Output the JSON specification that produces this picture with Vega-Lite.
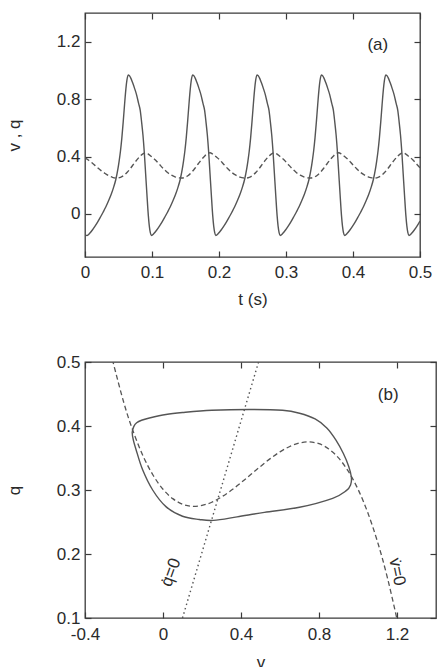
{
  "$schema": "https://vega.github.io/schema/vega-lite/v6.json",
  "padding": {"left": 4, "top": 11, "right": 0, "bottom": 0},
  "spacing": 44,
  "config": {
    "font": "Liberation Sans",
    "view": {"stroke": "#3a3a3a", "strokeWidth": 1.3},
    "axis": {
      "domain": false, "grid": false, "tickSize": -6, "tickColor": "#3a3a3a", "tickWidth": 1.2,
      "labelFont": "Liberation Sans", "labelFontSize": 17, "labelColor": "#2a2a2a", "labelPadding": 11,
      "labelFlush": false, "labelOverlap": false,
      "titleFont": "Liberation Sans", "titleFontSize": 17, "titleFontWeight": "normal", "titleColor": "#2a2a2a"
    },
    "text": {"font": "Liberation Sans", "fontSize": 17, "color": "#2a2a2a"}
  },
  "datasets": {
    "v_t": [
      {"t": 0, "v": -0.147},
      {"t": 0.003, "v": -0.150}, {"t": 0.007, "v": -0.135}, {"t": 0.011, "v": -0.112}, {"t": 0.015, "v": -0.085}, {"t": 0.019, "v": -0.055},
      {"t": 0.023, "v": -0.022}, {"t": 0.027, "v": 0.012}, {"t": 0.031, "v": 0.048}, {"t": 0.035, "v": 0.090}, {"t": 0.039, "v": 0.135},
      {"t": 0.043, "v": 0.190}, {"t": 0.046, "v": 0.240}, {"t": 0.049, "v": 0.310}, {"t": 0.051, "v": 0.370}, {"t": 0.053, "v": 0.440},
      {"t": 0.055, "v": 0.530}, {"t": 0.057, "v": 0.640}, {"t": 0.059, "v": 0.760}, {"t": 0.061, "v": 0.870}, {"t": 0.0625, "v": 0.930},
      {"t": 0.0645, "v": 0.968}, {"t": 0.066, "v": 0.965}, {"t": 0.068, "v": 0.950}, {"t": 0.071, "v": 0.915}, {"t": 0.074, "v": 0.875},
      {"t": 0.077, "v": 0.830}, {"t": 0.080, "v": 0.770}, {"t": 0.0825, "v": 0.720}, {"t": 0.0845, "v": 0.640}, {"t": 0.0865, "v": 0.550},
      {"t": 0.0885, "v": 0.430}, {"t": 0.0905, "v": 0.280}, {"t": 0.0925, "v": 0.130}, {"t": 0.0945, "v": -0.010}, {"t": 0.096, "v": -0.085},
      {"t": 0.0975, "v": -0.130},
      {"t": 0.0991, "v": -0.150}, {"t": 0.1031, "v": -0.135}, {"t": 0.1071, "v": -0.112}, {"t": 0.1111, "v": -0.085}, {"t": 0.1151, "v": -0.055},
      {"t": 0.1191, "v": -0.022}, {"t": 0.1231, "v": 0.012}, {"t": 0.1271, "v": 0.048}, {"t": 0.1311, "v": 0.090}, {"t": 0.1351, "v": 0.135},
      {"t": 0.1391, "v": 0.190}, {"t": 0.1421, "v": 0.240}, {"t": 0.1451, "v": 0.310}, {"t": 0.1471, "v": 0.370}, {"t": 0.1491, "v": 0.440},
      {"t": 0.1511, "v": 0.530}, {"t": 0.1531, "v": 0.640}, {"t": 0.1551, "v": 0.760}, {"t": 0.1571, "v": 0.870}, {"t": 0.1586, "v": 0.930},
      {"t": 0.1606, "v": 0.968}, {"t": 0.1621, "v": 0.965}, {"t": 0.1641, "v": 0.950}, {"t": 0.1671, "v": 0.915}, {"t": 0.1701, "v": 0.875},
      {"t": 0.1731, "v": 0.830}, {"t": 0.1761, "v": 0.770}, {"t": 0.1786, "v": 0.720}, {"t": 0.1806, "v": 0.640}, {"t": 0.1826, "v": 0.550},
      {"t": 0.1846, "v": 0.430}, {"t": 0.1866, "v": 0.280}, {"t": 0.1886, "v": 0.130}, {"t": 0.1906, "v": -0.010}, {"t": 0.1921, "v": -0.085},
      {"t": 0.1936, "v": -0.130},
      {"t": 0.1952, "v": -0.150}, {"t": 0.1992, "v": -0.135}, {"t": 0.2032, "v": -0.112}, {"t": 0.2072, "v": -0.085}, {"t": 0.2112, "v": -0.055},
      {"t": 0.2152, "v": -0.022}, {"t": 0.2192, "v": 0.012}, {"t": 0.2232, "v": 0.048}, {"t": 0.2272, "v": 0.090}, {"t": 0.2312, "v": 0.135},
      {"t": 0.2352, "v": 0.190}, {"t": 0.2382, "v": 0.240}, {"t": 0.2412, "v": 0.310}, {"t": 0.2432, "v": 0.370}, {"t": 0.2452, "v": 0.440},
      {"t": 0.2472, "v": 0.530}, {"t": 0.2492, "v": 0.640}, {"t": 0.2512, "v": 0.760}, {"t": 0.2532, "v": 0.870}, {"t": 0.2547, "v": 0.930},
      {"t": 0.2567, "v": 0.968}, {"t": 0.2582, "v": 0.965}, {"t": 0.2602, "v": 0.950}, {"t": 0.2632, "v": 0.915}, {"t": 0.2662, "v": 0.875},
      {"t": 0.2692, "v": 0.830}, {"t": 0.2722, "v": 0.770}, {"t": 0.2747, "v": 0.720}, {"t": 0.2767, "v": 0.640}, {"t": 0.2787, "v": 0.550},
      {"t": 0.2807, "v": 0.430}, {"t": 0.2827, "v": 0.280}, {"t": 0.2847, "v": 0.130}, {"t": 0.2867, "v": -0.010}, {"t": 0.2882, "v": -0.085},
      {"t": 0.2897, "v": -0.130},
      {"t": 0.2913, "v": -0.150}, {"t": 0.2953, "v": -0.135}, {"t": 0.2993, "v": -0.112}, {"t": 0.3033, "v": -0.085}, {"t": 0.3073, "v": -0.055},
      {"t": 0.3113, "v": -0.022}, {"t": 0.3153, "v": 0.012}, {"t": 0.3193, "v": 0.048}, {"t": 0.3233, "v": 0.090}, {"t": 0.3273, "v": 0.135},
      {"t": 0.3313, "v": 0.190}, {"t": 0.3343, "v": 0.240}, {"t": 0.3373, "v": 0.310}, {"t": 0.3393, "v": 0.370}, {"t": 0.3413, "v": 0.440},
      {"t": 0.3433, "v": 0.530}, {"t": 0.3453, "v": 0.640}, {"t": 0.3473, "v": 0.760}, {"t": 0.3493, "v": 0.870}, {"t": 0.3508, "v": 0.930},
      {"t": 0.3528, "v": 0.968}, {"t": 0.3543, "v": 0.965}, {"t": 0.3563, "v": 0.950}, {"t": 0.3593, "v": 0.915}, {"t": 0.3623, "v": 0.875},
      {"t": 0.3653, "v": 0.830}, {"t": 0.3683, "v": 0.770}, {"t": 0.3708, "v": 0.720}, {"t": 0.3728, "v": 0.640}, {"t": 0.3748, "v": 0.550},
      {"t": 0.3768, "v": 0.430}, {"t": 0.3788, "v": 0.280}, {"t": 0.3808, "v": 0.130}, {"t": 0.3828, "v": -0.010}, {"t": 0.3843, "v": -0.085},
      {"t": 0.3858, "v": -0.130},
      {"t": 0.3874, "v": -0.150}, {"t": 0.3914, "v": -0.135}, {"t": 0.3954, "v": -0.112}, {"t": 0.3994, "v": -0.085}, {"t": 0.4034, "v": -0.055},
      {"t": 0.4074, "v": -0.022}, {"t": 0.4114, "v": 0.012}, {"t": 0.4154, "v": 0.048}, {"t": 0.4194, "v": 0.090}, {"t": 0.4234, "v": 0.135},
      {"t": 0.4274, "v": 0.190}, {"t": 0.4304, "v": 0.240}, {"t": 0.4334, "v": 0.310}, {"t": 0.4354, "v": 0.370}, {"t": 0.4374, "v": 0.440},
      {"t": 0.4394, "v": 0.530}, {"t": 0.4414, "v": 0.640}, {"t": 0.4434, "v": 0.760}, {"t": 0.4454, "v": 0.870}, {"t": 0.4469, "v": 0.930},
      {"t": 0.4489, "v": 0.968}, {"t": 0.4504, "v": 0.965}, {"t": 0.4524, "v": 0.950}, {"t": 0.4554, "v": 0.915}, {"t": 0.4584, "v": 0.875},
      {"t": 0.4614, "v": 0.830}, {"t": 0.4644, "v": 0.770}, {"t": 0.4669, "v": 0.720}, {"t": 0.4689, "v": 0.640}, {"t": 0.4709, "v": 0.550},
      {"t": 0.4729, "v": 0.430}, {"t": 0.4749, "v": 0.280}, {"t": 0.4769, "v": 0.130}, {"t": 0.4789, "v": -0.010}, {"t": 0.4804, "v": -0.085},
      {"t": 0.4819, "v": -0.130},
      {"t": 0.4835, "v": -0.150}, {"t": 0.4875, "v": -0.135}, {"t": 0.4915, "v": -0.112}, {"t": 0.4955, "v": -0.085}, {"t": 0.5, "v": -0.050}
    ],
    "q_t": [
      {"t": 0, "q": 0.390}, {"t": 0.006, "q": 0.372}, {"t": 0.012, "q": 0.350}, {"t": 0.018, "q": 0.325}, {"t": 0.024, "q": 0.302},
      {"t": 0.030, "q": 0.282}, {"t": 0.036, "q": 0.265}, {"t": 0.041, "q": 0.255}, {"t": 0.048, "q": 0.250}, {"t": 0.053, "q": 0.255},
      {"t": 0.058, "q": 0.268}, {"t": 0.063, "q": 0.290}, {"t": 0.068, "q": 0.318}, {"t": 0.073, "q": 0.350}, {"t": 0.078, "q": 0.380},
      {"t": 0.083, "q": 0.406}, {"t": 0.087, "q": 0.421}, {"t": 0.0905, "q": 0.426}, {"t": 0.094, "q": 0.419},
      {"t": 0.0991, "q": 0.400}, {"t": 0.1051, "q": 0.376}, {"t": 0.1111, "q": 0.345}, {"t": 0.1171, "q": 0.315}, {"t": 0.1231, "q": 0.289},
      {"t": 0.1291, "q": 0.270}, {"t": 0.1351, "q": 0.257}, {"t": 0.1401, "q": 0.251}, {"t": 0.1441, "q": 0.250}, {"t": 0.1491, "q": 0.255},
      {"t": 0.1541, "q": 0.268}, {"t": 0.1591, "q": 0.290}, {"t": 0.1641, "q": 0.318}, {"t": 0.1691, "q": 0.350}, {"t": 0.1741, "q": 0.380},
      {"t": 0.1791, "q": 0.406}, {"t": 0.1831, "q": 0.421}, {"t": 0.1866, "q": 0.426}, {"t": 0.1901, "q": 0.419},
      {"t": 0.1952, "q": 0.400}, {"t": 0.2012, "q": 0.376}, {"t": 0.2072, "q": 0.345}, {"t": 0.2132, "q": 0.315}, {"t": 0.2192, "q": 0.289},
      {"t": 0.2252, "q": 0.270}, {"t": 0.2312, "q": 0.257}, {"t": 0.2362, "q": 0.251}, {"t": 0.2402, "q": 0.250}, {"t": 0.2452, "q": 0.255},
      {"t": 0.2502, "q": 0.268}, {"t": 0.2552, "q": 0.290}, {"t": 0.2602, "q": 0.318}, {"t": 0.2652, "q": 0.350}, {"t": 0.2702, "q": 0.380},
      {"t": 0.2752, "q": 0.406}, {"t": 0.2792, "q": 0.421}, {"t": 0.2827, "q": 0.426}, {"t": 0.2862, "q": 0.419},
      {"t": 0.2913, "q": 0.400}, {"t": 0.2973, "q": 0.376}, {"t": 0.3033, "q": 0.345}, {"t": 0.3093, "q": 0.315}, {"t": 0.3153, "q": 0.289},
      {"t": 0.3213, "q": 0.270}, {"t": 0.3273, "q": 0.257}, {"t": 0.3323, "q": 0.251}, {"t": 0.3363, "q": 0.250}, {"t": 0.3413, "q": 0.255},
      {"t": 0.3463, "q": 0.268}, {"t": 0.3513, "q": 0.290}, {"t": 0.3563, "q": 0.318}, {"t": 0.3613, "q": 0.350}, {"t": 0.3663, "q": 0.380},
      {"t": 0.3713, "q": 0.406}, {"t": 0.3753, "q": 0.421}, {"t": 0.3788, "q": 0.426}, {"t": 0.3823, "q": 0.419},
      {"t": 0.3874, "q": 0.400}, {"t": 0.3934, "q": 0.376}, {"t": 0.3994, "q": 0.345}, {"t": 0.4054, "q": 0.315}, {"t": 0.4114, "q": 0.289},
      {"t": 0.4174, "q": 0.270}, {"t": 0.4234, "q": 0.257}, {"t": 0.4284, "q": 0.251}, {"t": 0.4324, "q": 0.250}, {"t": 0.4374, "q": 0.255},
      {"t": 0.4424, "q": 0.268}, {"t": 0.4474, "q": 0.290}, {"t": 0.4524, "q": 0.318}, {"t": 0.4574, "q": 0.350}, {"t": 0.4624, "q": 0.380},
      {"t": 0.4674, "q": 0.406}, {"t": 0.4714, "q": 0.421}, {"t": 0.4749, "q": 0.426}, {"t": 0.4784, "q": 0.419},
      {"t": 0.4835, "q": 0.400}, {"t": 0.4895, "q": 0.376}, {"t": 0.4955, "q": 0.345}, {"t": 0.5, "q": 0.322}
    ],
    "cycle": [
      {"i": 0, "v": -0.158, "q": 0.390}, {"i": 1, "v": -0.150, "q": 0.399}, {"i": 2, "v": -0.135, "q": 0.405},
      {"i": 3, "v": -0.110, "q": 0.409}, {"i": 4, "v": -0.070, "q": 0.4125}, {"i": 5, "v": 0.015, "q": 0.418},
      {"i": 6, "v": 0.100, "q": 0.421}, {"i": 7, "v": 0.250, "q": 0.4245}, {"i": 8, "v": 0.443, "q": 0.4258},
      {"i": 9, "v": 0.613, "q": 0.4245}, {"i": 10, "v": 0.700, "q": 0.420}, {"i": 11, "v": 0.780, "q": 0.411},
      {"i": 12, "v": 0.840, "q": 0.397}, {"i": 13, "v": 0.887, "q": 0.378}, {"i": 14, "v": 0.925, "q": 0.357},
      {"i": 15, "v": 0.952, "q": 0.337}, {"i": 16, "v": 0.966, "q": 0.320}, {"i": 17, "v": 0.962, "q": 0.308},
      {"i": 18, "v": 0.940, "q": 0.299}, {"i": 19, "v": 0.870, "q": 0.287}, {"i": 20, "v": 0.700, "q": 0.273},
      {"i": 21, "v": 0.520, "q": 0.265}, {"i": 22, "v": 0.380, "q": 0.258}, {"i": 23, "v": 0.260, "q": 0.2525},
      {"i": 24, "v": 0.186, "q": 0.254}, {"i": 25, "v": 0.100, "q": 0.259}, {"i": 26, "v": 0.015, "q": 0.274},
      {"i": 27, "v": -0.053, "q": 0.300}, {"i": 28, "v": -0.105, "q": 0.332}, {"i": 29, "v": -0.138, "q": 0.363},
      {"i": 30, "v": -0.152, "q": 0.378}
    ],
    "v_nullcline": [
      {"v": -0.26, "q": 0.5043}, {"v": -0.20, "q": 0.4355}, {"v": -0.15, "q": 0.3891}, {"v": -0.10, "q": 0.3517},
      {"v": -0.05, "q": 0.3227}, {"v": 0.00, "q": 0.3012}, {"v": 0.05, "q": 0.2865}, {"v": 0.10, "q": 0.2779},
      {"v": 0.15, "q": 0.2746}, {"v": 0.20, "q": 0.2759}, {"v": 0.25, "q": 0.2809}, {"v": 0.30, "q": 0.2891},
      {"v": 0.35, "q": 0.2995}, {"v": 0.40, "q": 0.3114}, {"v": 0.45, "q": 0.3242}, {"v": 0.50, "q": 0.3369},
      {"v": 0.55, "q": 0.3490}, {"v": 0.60, "q": 0.3596}, {"v": 0.65, "q": 0.3680}, {"v": 0.70, "q": 0.3734},
      {"v": 0.75, "q": 0.3751}, {"v": 0.80, "q": 0.3723}, {"v": 0.85, "q": 0.3642}, {"v": 0.90, "q": 0.3502},
      {"v": 0.95, "q": 0.3294}, {"v": 1.00, "q": 0.3012}, {"v": 1.05, "q": 0.2647}, {"v": 1.10, "q": 0.2192},
      {"v": 1.15, "q": 0.1639}, {"v": 1.20, "q": 0.0982}
    ],
    "q_nullcline": [
      {"v": 0.10, "q": 0.10}, {"v": 0.49, "q": 0.50}
    ]
  },
  "vconcat": [
    {
      "width": 335,
      "height": 244,
      "resolve": {"axis": {"x": "independent", "y": "independent"}},
      "layer": [
        {
          "data": {"name": "v_t"},
          "mark": {"type": "line", "interpolate": "monotone", "clip": true, "color": "#555555", "strokeWidth": 1.4},
          "encoding": {
            "x": {"field": "t", "type": "quantitative", "scale": {"domain": [0, 0.5], "nice": false, "zero": false},
                  "axis": {"orient": "bottom", "title": "t (s)", "values": [0, 0.1, 0.2, 0.3, 0.4, 0.5], "labelPadding": 13, "titlePadding": 11,
                           "labelExpr": "replace(format(datum.value, '.1~f'), '\u2212', '-')"}},
            "y": {"field": "v", "type": "quantitative", "scale": {"domain": [-0.3, 1.4], "nice": false, "zero": false},
                  "axis": {"orient": "left", "title": "v , q", "values": [0, 0.4, 0.8, 1.2], "titlePadding": 33,
                           "labelExpr": "replace(format(datum.value, '.1~f'), '\u2212', '-')"}}
          }
        },
        {
          "data": {"name": "q_t"},
          "mark": {"type": "line", "interpolate": "monotone", "clip": true, "color": "#555555", "strokeWidth": 1.4, "strokeDash": [5, 3]},
          "encoding": {
            "x": {"field": "t", "type": "quantitative", "axis": null},
            "y": {"field": "q", "type": "quantitative", "axis": null}
          }
        },
        {
          "data": {"values": [{"t": 0.437, "v": 1.18, "label": "(a)"}]},
          "mark": {"type": "text", "align": "center", "baseline": "middle"},
          "encoding": {
            "x": {"field": "t", "type": "quantitative",
                  "axis": {"orient": "top", "labels": false, "title": null, "values": [0, 0.1, 0.2, 0.3, 0.4, 0.5]}},
            "y": {"field": "v", "type": "quantitative",
                  "axis": {"orient": "right", "labels": false, "title": null, "values": [0, 0.4, 0.8, 1.2]}},
            "text": {"field": "label"}
          }
        }
      ]
    },
    {
      "width": 351,
      "height": 256,
      "resolve": {"axis": {"x": "independent", "y": "independent"}},
      "layer": [
        {
          "data": {"name": "v_nullcline"},
          "mark": {"type": "line", "interpolate": "natural", "clip": true, "color": "#555555", "strokeWidth": 1.3, "strokeDash": [5, 3]},
          "encoding": {
            "x": {"field": "v", "type": "quantitative", "scale": {"domain": [-0.4, 1.4], "nice": false, "zero": false},
                  "axis": {"orient": "bottom", "title": "v", "values": [-0.4, 0, 0.4, 0.8, 1.2], "labelPadding": 14, "titlePadding": 12,
                           "labelExpr": "replace(format(datum.value, '.1~f'), '\u2212', '-')"}},
            "y": {"field": "q", "type": "quantitative", "scale": {"domain": [0.1, 0.5], "nice": false, "zero": false},
                  "axis": {"orient": "left", "title": "q", "values": [0.1, 0.2, 0.3, 0.4, 0.5], "titlePadding": 33,
                           "labelExpr": "format(datum.value, '.1f')"}}
          }
        },
        {
          "data": {"name": "q_nullcline"},
          "mark": {"type": "line", "clip": true, "color": "#555555", "strokeWidth": 1.4, "strokeDash": [1.5, 3]},
          "encoding": {
            "x": {"field": "v", "type": "quantitative", "axis": null},
            "y": {"field": "q", "type": "quantitative", "axis": null}
          }
        },
        {
          "data": {"name": "cycle"},
          "mark": {"type": "line", "interpolate": "cardinal-closed", "clip": true, "color": "#555555", "strokeWidth": 1.4},
          "encoding": {
            "x": {"field": "v", "type": "quantitative", "axis": null},
            "y": {"field": "q", "type": "quantitative", "axis": null},
            "order": {"field": "i", "type": "quantitative"}
          }
        },
        {
          "data": {"values": [{"v": 1.155, "q": 0.449, "label": "(b)"}]},
          "mark": {"type": "text", "align": "center", "baseline": "middle"},
          "encoding": {
            "x": {"field": "v", "type": "quantitative",
                  "axis": {"orient": "top", "labels": false, "title": null, "values": [-0.4, 0, 0.4, 0.8, 1.2]}},
            "y": {"field": "q", "type": "quantitative",
                  "axis": {"orient": "right", "labels": false, "title": null, "values": [0.1, 0.2, 0.3, 0.4, 0.5]}},
            "text": {"field": "label"}
          }
        },
        {
          "data": {"values": [{"v": 0.041, "q": 0.171, "label": "q̇=0"}]},
          "mark": {"type": "text", "align": "center", "baseline": "middle", "angle": 290},
          "encoding": {
            "x": {"field": "v", "type": "quantitative", "axis": null},
            "y": {"field": "q", "type": "quantitative", "axis": null},
            "text": {"field": "label"}
          }
        },
        {
          "data": {"values": [{"v": 1.2, "q": 0.172, "label": "v̇=0"}]},
          "mark": {"type": "text", "align": "center", "baseline": "middle", "angle": 78},
          "encoding": {
            "x": {"field": "v", "type": "quantitative", "axis": null},
            "y": {"field": "q", "type": "quantitative", "axis": null},
            "text": {"field": "label"}
          }
        }
      ]
    }
  ]
}
